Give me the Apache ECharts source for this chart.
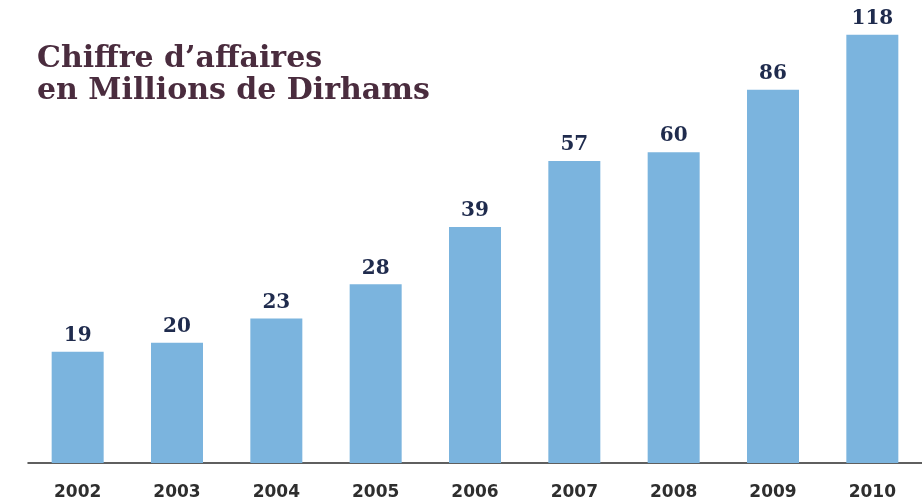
<!DOCTYPE html>
<html>
<head>
<meta charset="utf-8">
<script src="https://cdn.jsdelivr.net/npm/echarts@6/dist/echarts.min.js"></script>
<style>
  html, body { margin: 0; padding: 0; background: #fff; }
  #chart { width: 922px; height: 502px; }
</style>
</head>
<body>
<div id="chart"></div>
<script>
// values
var years = ['2002', '2003', '2004', '2005', '2006', '2007', '2008', '2009', '2010'];
var chiffre = [19, 20, 23, 28, 39, 57, 60, 86, 118];

var myChart = echarts.init(document.getElementById('chart'));

var option = {
	backgroundColor: '#ffffff',
	animation: false,
	title: {
		text: 'Chiffre d\u2019affaires\nen Millions de Dirhams',
		left: 32,
		top: 38,
		textStyle: {
			fontFamily: '"DejaVu Serif", serif',
			fontWeight: 'bold',
			fontSize: 30,
			lineHeight: 32,
			color: '#4a2c3e'
		}
	},
	grid: { left: 28, right: 0, top: 18, bottom: 39 },
	xAxis: {
		type: 'category',
		data: years,
		axisLine: { show: true, lineStyle: { color: '#2b2b2b', width: 1.5 } },
		axisTick: { show: false },
		axisLabel: {
			margin: 21,
			fontFamily: '"DejaVu Sans", sans-serif',
			fontWeight: 'bold',
			fontSize: 17,
			color: '#2e2e2e'
		}
	},
	// the bars are not drawn to a linear scale in the original, a log axis fits best
	yAxis: {
		type: 'log',
		min: 10,
		max: 130,
		startValue: 10,
		show: false,
		splitLine: { show: false }
	},
	series: [{
		type: 'bar',
		data: chiffre,
		barWidth: 52,
		clip: true,
		itemStyle: { color: '#7bb4de' },
		label: {
			show: true,
			position: 'top',
			distance: 6,
			fontFamily: '"DejaVu Serif", serif',
			fontWeight: 'bold',
			fontSize: 20,
			color: '#1f2b4d'
		}
	}]
};

myChart.setOption(option);
</script>
</body>
</html>
